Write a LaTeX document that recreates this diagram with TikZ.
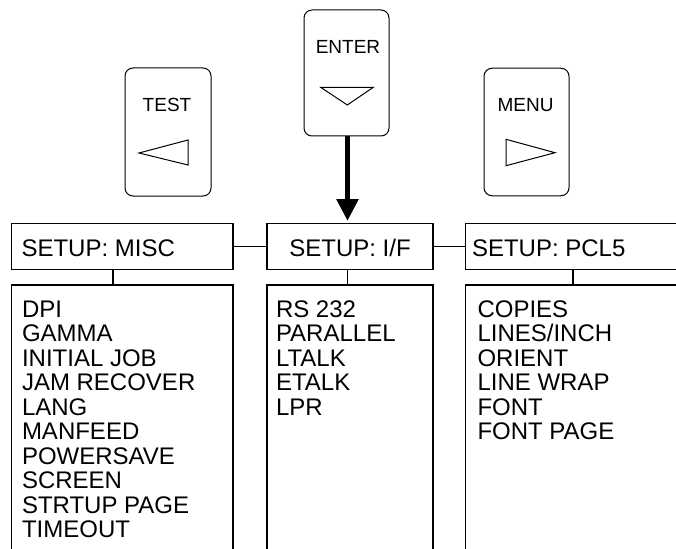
\documentclass[tikz,border=0pt]{standalone}
\usepackage{fontspec}
\setmainfont{Liberation Sans}
\usetikzlibrary{arrows.meta}
\newcommand\mylistfont{\fontsize{24}{24}\selectfont}
\newcommand\mybtnfont{\fontsize{19}{19}\selectfont}
\tikzset{
  hbox/.style={draw, line width=1.2pt, inner sep=0pt, outer sep=0pt},
  lbox/.style={draw, line width=1.2pt, inner sep=0pt, outer sep=0pt},
  btn/.style={draw, line width=1pt, rounded corners=8pt, inner sep=0pt, outer sep=0pt},
  tri/.style={draw, line width=1pt, line join=miter},
  conn/.style={line width=1.2pt},
  txt/.style={font=\mylistfont, inner sep=0pt, outer sep=0pt},
  btxt/.style={font=\mybtnfont, inner sep=0pt, outer sep=0pt},
  bigarrow/.style={line width=5.5pt, -{Triangle[width=21pt,length=22pt]}}
}
\begin{document}
\begin{tikzpicture}[x=1pt,y=-1pt]
\clip (0,0) rectangle (676,548);
\fill[white] (0,0) rectangle (676,548);

% buttons
\node[btn, minimum width=86, minimum height=128] (test) at (168,132) {};
\node[btn, minimum width=85, minimum height=126] (enter) at (346.5,73) {};
\node[btn, minimum width=85, minimum height=127.5] (menu) at (526.5,132) {};
\node[btxt, anchor=base] (testlbl) at (167,112) {TEST};
\node[btxt, anchor=base] (enterlbl) at (348,54) {ENTER};
\node[btxt, anchor=base] (menulbl) at (525.5,112) {MENU};
\draw[tri] (139,153) -- (188,140) -- (188,165) -- cycle;
\draw[tri] (320.7,87.3) -- (373.3,87.3) -- (347.3,105) -- cycle;
\draw[tri] (506,139.3) -- (506,165.7) -- (555,152.7) -- cycle;

% header boxes
\node[hbox, minimum width=221.5, minimum height=46] (mischead) at (122.25,246.5) {};
\node[hbox, minimum width=166, minimum height=46] (ifhead) at (350,246.5) {};
\node[hbox, minimum width=234.5, minimum height=46] (pclhead) at (582.75,246.5) {};
\node[txt, anchor=base west] (mischeadtxt) at (21.5,256) {SETUP: MISC};
\node[txt, anchor=base] (ifheadtxt) at (350,256) {SETUP: I/F};
\node[txt, anchor=base west] (pclheadtxt) at (472,256) {SETUP: PCL5};

% list boxes
\node[lbox, minimum width=221.5, minimum height=275] (misclist) at (122.25,422.5) {};
\node[lbox, minimum width=166, minimum height=275] (iflist) at (350,422.5) {};
\node[lbox, minimum width=234.5, minimum height=275] (pcllist) at (582.75,422.5) {};

% list texts
\foreach \t [count=\i from 0] in {DPI,GAMMA,INITIAL JOB,JAM RECOVER,LANG,MANFEED,POWERSAVE,SCREEN,STRTUP PAGE,TIMEOUT}
  \node[txt, anchor=base west] (m\i) at (22,317+24.5*\i) {\t};
\foreach \t [count=\i from 0] in {RS 232,PARALLEL,LTALK,ETALK,LPR}
  \node[txt, anchor=base west] (f\i) at (276,317+24.5*\i) {\t};
\foreach \t [count=\i from 0] in {COPIES,LINES/INCH,ORIENT,LINE WRAP,FONT,FONT PAGE}
  \node[txt, anchor=base west] (p\i) at (477.5,317+24.5*\i) {\t};

% connectors
\coordinate (mcon) at (113,0);
\coordinate (ifcon) at (347.5,0);
\coordinate (pcon) at (573,0);
\draw[conn] (mischead.east) -- (ifhead.west);
\draw[conn] (ifhead.east) -- (pclhead.west);
\draw[conn] (mcon |- mischead.south) -- (mcon |- misclist.north);
\draw[conn] (ifcon |- ifhead.south) -- (ifcon |- iflist.north);
\draw[conn] (pcon |- pclhead.south) -- (pcon |- pcllist.north);
\draw[bigarrow, shorten >=2.5pt] (ifcon |- enter.south) -- (ifcon |- ifhead.north);
\end{tikzpicture}
\end{document}
